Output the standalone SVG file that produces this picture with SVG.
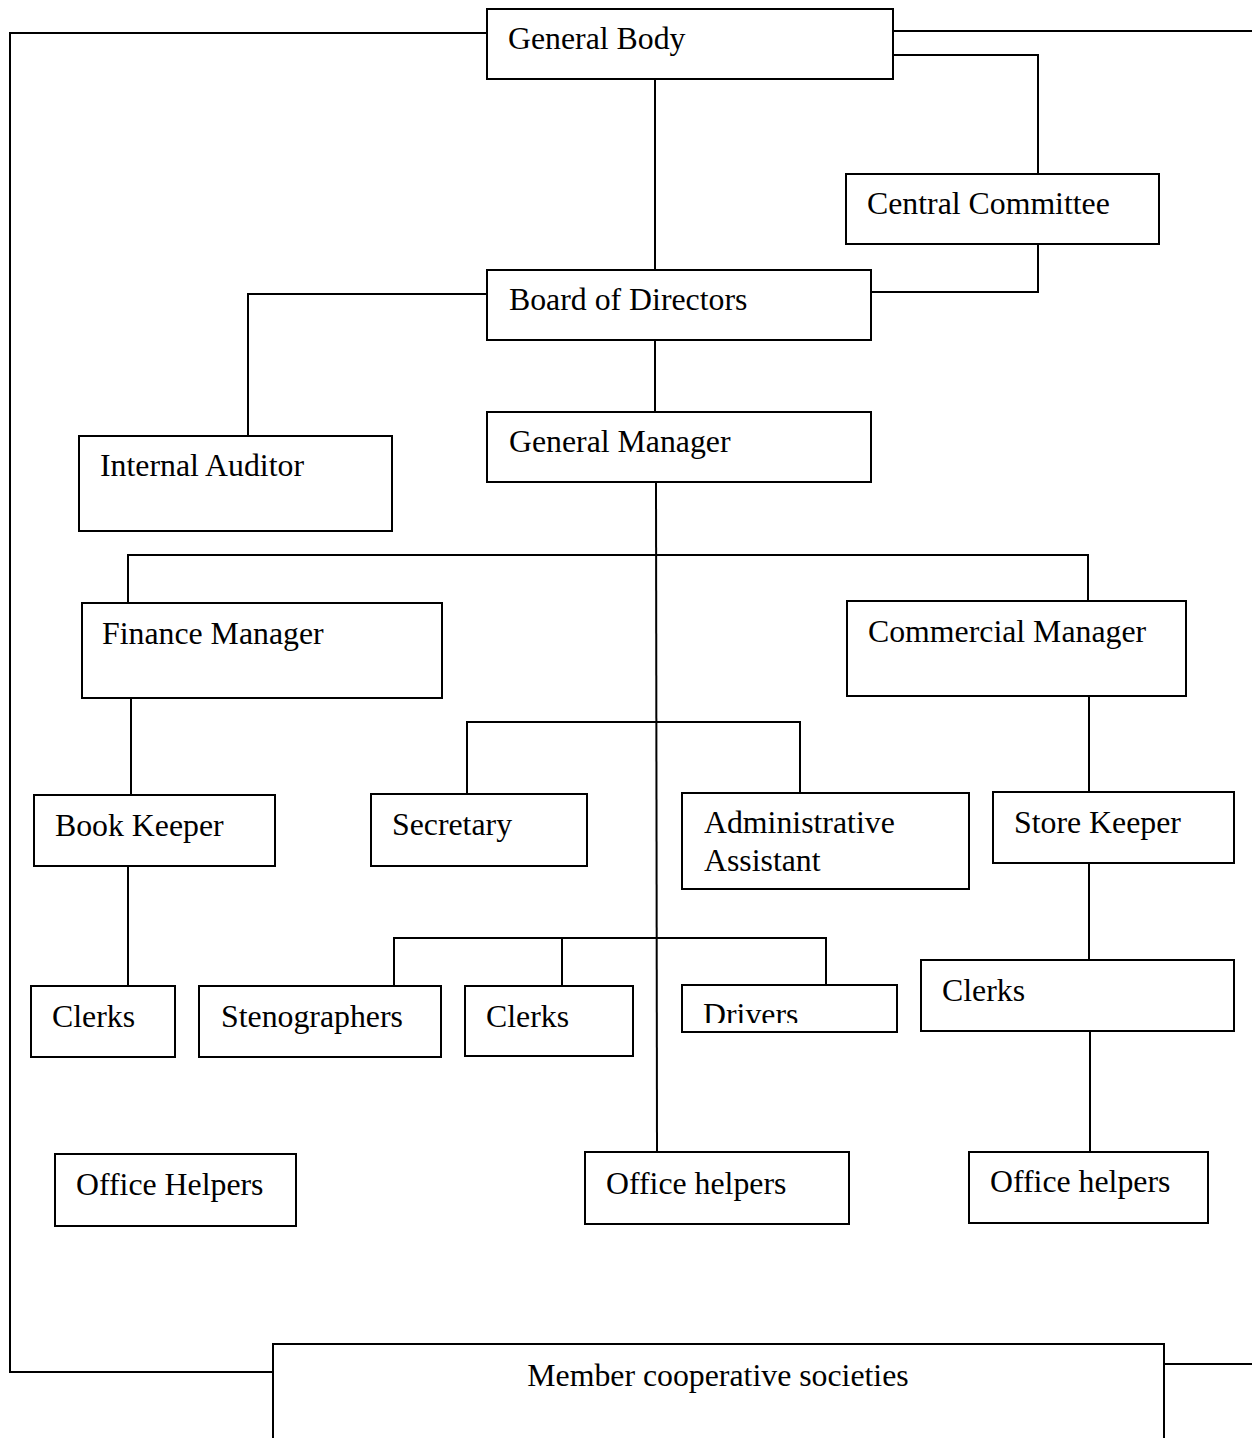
<svg xmlns="http://www.w3.org/2000/svg" width="1252" height="1438" viewBox="0 0 1252 1438">
<style>
.box{fill:#fff;stroke:#000;stroke-width:2}
.t{font-family:"Liberation Serif","Times New Roman",serif;font-size:31.8px;fill:#000}
.c{fill:none;stroke:#000;stroke-width:2}
</style>
<defs>
<clipPath id="drvclip"><rect x="682" y="985" width="215" height="38"/></clipPath>
</defs>
<rect width="1252" height="1438" fill="#fff"/>
<g id="connectors" class="c">
<polyline points="487,33 10,33 10,1372 273,1372"/>
<line x1="893" y1="31" x2="1252" y2="31"/>
<polyline points="893,55 1038,55 1038,174"/>
<polyline points="1038,244 1038,292 871,292"/>
<line x1="655" y1="79" x2="655" y2="270"/>
<polyline points="487,294 248,294 248,436"/>
<line x1="655" y1="340" x2="655" y2="412"/>
<line x1="656" y1="482" x2="657" y2="1152"/>
<polyline points="128,603 128,555 1088,555 1088,601"/>
<line x1="131" y1="698" x2="131" y2="795"/>
<polyline points="467,794 467,722 800,722 800,793"/>
<line x1="1089" y1="696" x2="1089" y2="792"/>
<line x1="128" y1="866" x2="128" y2="986"/>
<polyline points="394,986 394,938 826,938 826,985"/>
<line x1="562" y1="938" x2="562" y2="986"/>
<line x1="1089" y1="863" x2="1089" y2="960"/>
<line x1="1090" y1="1031" x2="1090" y2="1152"/>
<line x1="1164" y1="1364" x2="1252" y2="1364"/>
</g>
<g id="general-body"><rect class="box" x="487" y="9" width="406" height="70"/><text class="t" x="508" y="49">General Body</text></g>
<g id="central-committee"><rect class="box" x="846" y="174" width="313" height="70"/><text class="t" x="867" y="214">Central Committee</text></g>
<g id="board-of-directors"><rect class="box" x="487" y="270" width="384" height="70"/><text class="t" x="509" y="310">Board of Directors</text></g>
<g id="internal-auditor"><rect class="box" x="79" y="436" width="313" height="95"/><text class="t" x="100" y="476">Internal Auditor</text></g>
<g id="general-manager"><rect class="box" x="487" y="412" width="384" height="70"/><text class="t" x="509" y="452">General Manager</text></g>
<g id="finance-manager"><rect class="box" x="82" y="603" width="360" height="95"/><text class="t" x="102" y="644">Finance Manager</text></g>
<g id="commercial-manager"><rect class="box" x="847" y="601" width="339" height="95"/><text class="t" x="868" y="642">Commercial Manager</text></g>
<g id="book-keeper"><rect class="box" x="34" y="795" width="241" height="71"/><text class="t" x="55" y="836">Book Keeper</text></g>
<g id="secretary"><rect class="box" x="371" y="794" width="216" height="72"/><text class="t" x="392" y="835">Secretary</text></g>
<g id="administrative-assistant"><rect class="box" x="682" y="793" width="287" height="96"/><text class="t" x="704" y="833">Administrative</text><text class="t" x="704" y="871">Assistant</text></g>
<g id="store-keeper"><rect class="box" x="993" y="792" width="241" height="71"/><text class="t" x="1014" y="833">Store Keeper</text></g>
<g id="clerks-finance"><rect class="box" x="31" y="986" width="144" height="71"/><text class="t" x="52" y="1027">Clerks</text></g>
<g id="stenographers"><rect class="box" x="199" y="986" width="242" height="71"/><text class="t" x="221" y="1027">Stenographers</text></g>
<g id="clerks-admin"><rect class="box" x="465" y="986" width="168" height="70"/><text class="t" x="486" y="1027">Clerks</text></g>
<g id="drivers"><rect class="box" x="682" y="985" width="215" height="47"/><text class="t" x="703" y="1025" clip-path="url(#drvclip)">Drivers</text></g>
<g id="clerks-commercial"><rect class="box" x="921" y="960" width="313" height="71"/><text class="t" x="942" y="1001">Clerks</text></g>
<g id="office-helpers-finance"><rect class="box" x="55" y="1154" width="241" height="72"/><text class="t" x="76" y="1195">Office Helpers</text></g>
<g id="office-helpers-admin"><rect class="box" x="585" y="1152" width="264" height="72"/><text class="t" x="606" y="1194">Office helpers</text></g>
<g id="office-helpers-commercial"><rect class="box" x="969" y="1152" width="239" height="71"/><text class="t" x="990" y="1192">Office helpers</text></g>
<g id="member-cooperative-societies"><rect class="box" x="273" y="1344" width="891" height="110"/><text class="t" x="718" y="1386" text-anchor="middle">Member cooperative societies</text></g>
</svg>
